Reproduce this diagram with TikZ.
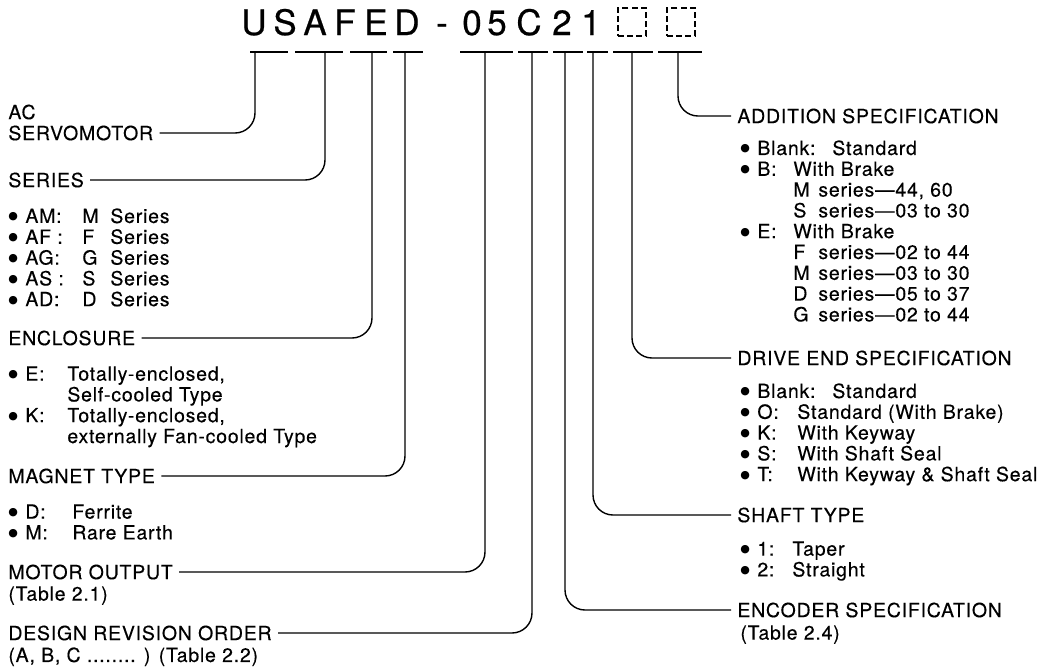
\documentclass[tikz,border=0pt]{standalone}
\usepackage{fontspec}
\setmainfont{TeX Gyre Heros}[LetterSpace=4,FakeBold=0.25]
\newfontfamily\titlefont{TeX Gyre Heros}[FakeBold=0.6]
\newfontfamily\dotfont{DejaVu Sans}
\usetikzlibrary{positioning}

% bullet + key column, and the indent of a continued line
\newcommand{\itm}[2][18pt]{\makebox[8.5pt][l]{\raisebox{1.5pt}{\dotfont\fontsize{5.5}{5.5}\selectfont ●}}\makebox[#1][l]{#2}}
\newcommand{\skipkey}[1][18pt]{\hspace*{\dimexpr 8.5pt+#1\relax}}

\tikzset{
  heading/.style={anchor=west, inner sep=3pt, font=\fontsize{9.75}{10.4}\selectfont},
  itemlist/.style={anchor=north west, inner sep=0pt, align=left, font=\fontsize{9.75}{10.4}\selectfont},
  codechar/.style={anchor=base, inner sep=0pt, font=\titlefont\fontsize{17.5}{20}\selectfont},
  dbox/.style={draw, minimum size=14pt, inner sep=0pt, line width=0.7pt, dash pattern=on 3pt off 1.6pt},
  underbar/.style={line width=1.3pt},
  leader/.style={line width=0.7pt, rounded corners=10pt}
}

\begin{document}
\begin{tikzpicture}[x=0.5pt,y=-0.5pt]
\useasboundingbox (0,0) rectangle (1046,671);

% model code
\foreach \ch/\x [count=\i] in {U/254,S/285,A/315,F/345,E/376,D/407,-/442,0/472,5/497,C/529,2/562,1/591}
  \node[codechar] (t\i) at (\x,35) {\ch};
\node[dbox] (b1) at (632,22) {};
\node[dbox] (b2) at (681,22) {};

% bars under the code
\foreach \n/\a/\b/\c in {us/250/288/255, af/295/343/325, en/350/387/372, mg/393/423/405,
    out/460/513/485, rev/518/548/532, enc/553/583/565, sh/587/608/593, drv/613/653/632, add/658/702/678}{
  \draw[underbar] (\a,52) -- (\b,52);
  \coordinate (\n) at (\c,52);
}

% left side
\node[heading] (ac) at (2,112) {AC};
\node[heading] (servo) at (2,133) {SERVOMOTOR};

\node[heading] (series) at (2,180) {SERIES};
\node[itemlist] (serieslist) at (8,208) {%
  \itm[28.5pt]{AM:}\makebox[14pt][l]{M}Series\\
  \itm[28.5pt]{AF :}\makebox[14pt][l]{F}Series\\
  \itm[28.5pt]{AG:}\makebox[14pt][l]{G}Series\\
  \itm[28.5pt]{AS :}\makebox[14pt][l]{S}Series\\
  \itm[28.5pt]{AD:}\makebox[14pt][l]{D}Series};

\node[heading] (encl) at (2,338) {ENCLOSURE};
\node[itemlist] (encllist) at (8,366) {%
  \itm[21pt]{E:}Totally-enclosed,\\
  \skipkey[21pt]Self-cooled Type\\
  \itm[21pt]{K:}Totally-enclosed,\\
  \skipkey[21pt]externally Fan-cooled Type};

\node[heading] (magnet) at (2,476) {MAGNET TYPE};
\node[itemlist] (magnetlist) at (8,504) {%
  \itm[23.5pt]{D:}Ferrite\\
  \itm[23.5pt]{M:}Rare Earth};

\node[heading] (motor) at (2,572) {MOTOR OUTPUT};
\node[itemlist] (motortab) at (8,586) {(Table 2.1)};

\node[heading] (design) at (2,633) {DESIGN REVISION ORDER};
\node[itemlist] (designtab) at (8,647) {(A, B, C ........ ) (Table 2.2)};

% right side
\node[heading] (addit) at (731,116) {ADDITION SPECIFICATION};
\node[itemlist] (additlist) at (740,140) {%
  \itm[37.5pt]{Blank:}Standard\\
  \itm{B:}With Brake\\
  \skipkey\makebox[12.5pt][l]{M}series—44, 60\\
  \skipkey\makebox[12.5pt][l]{S}series—03 to 30\\
  \itm{E:}With Brake\\
  \skipkey\makebox[12.5pt][l]{F}series—02 to 44\\
  \skipkey\makebox[12.5pt][l]{M}series—03 to 30\\
  \skipkey\makebox[12.5pt][l]{D}series—05 to 37\\
  \skipkey\makebox[12.5pt][l]{G}series—02 to 44};

\node[heading] (drive) at (731,358) {DRIVE END SPECIFICATION};
\node[itemlist] (drivelist) at (740,383) {%
  \itm[37.5pt]{Blank:}Standard\\
  \itm[20pt]{O:}Standard (With Brake)\\
  \itm[20pt]{K:}With Keyway\\
  \itm[20pt]{S:}With Shaft Seal\\
  \itm[20pt]{T:}With Keyway \& Shaft Seal};

\node[heading] (shaft) at (731,515) {SHAFT TYPE};
\node[itemlist] (shaftlist) at (740,541) {%
  \itm[17.5pt]{1:}Taper\\
  \itm[17.5pt]{2:}Straight};

\node[heading] (encoder) at (731,610) {ENCODER SPECIFICATION};
\node[itemlist] (encodertab) at (740,625) {(Table 2.4)};

% leaders
\draw[leader] (us) |- (servo.east);
\draw[leader] (af) |- (series.east);
\draw[leader] (en) |- (encl.east);
\draw[leader] (mg) |- (magnet.east);
\draw[leader] (out) |- (motor.east);
\draw[leader] (rev) |- (design.east);
\draw[leader] (enc) |- (encoder.west);
\draw[leader] (sh) |- (shaft.west);
\draw[leader] (drv) |- (drive.west);
\draw[leader] (add) |- (addit.west);
\end{tikzpicture}
\end{document}
